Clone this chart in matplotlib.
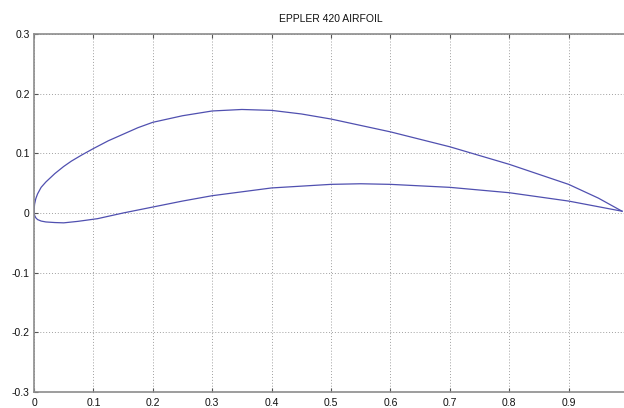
import matplotlib
matplotlib.use("Agg")
import matplotlib.pyplot as plt

# upper surface, trailing edge -> leading edge
x_upper = [0.99, 0.95, 0.9, 0.8, 0.7, 0.6, 0.5, 0.45, 0.4, 0.35, 0.3, 0.25,
           0.2, 0.175, 0.15, 0.125, 0.1, 0.08, 0.063, 0.05, 0.035, 0.02, 0.012,
           0.006, 0.003, 0.001, 0.0]
y_upper = [0.003, 0.025, 0.048, 0.0816, 0.111, 0.136, 0.1575, 0.166, 0.172, 0.1735, 0.171, 0.163,
           0.152, 0.143, 0.132, 0.121, 0.108, 0.097, 0.087, 0.078, 0.066, 0.052, 0.043,
           0.032, 0.024, 0.015, 0.004]
# lower surface, leading edge -> trailing edge
x_lower = [0.0, 0.001, 0.003, 0.006, 0.012, 0.02, 0.035, 0.05, 0.074, 0.107, 0.15,
           0.2, 0.25, 0.3, 0.4, 0.5, 0.55, 0.6, 0.7, 0.8, 0.9, 0.99]
y_lower = [0.004, -0.004, -0.008, -0.011, -0.0135, -0.015, -0.016, -0.0165, -0.014, -0.0095, 0.0,
           0.010, 0.020, 0.029, 0.042, 0.048, 0.049, 0.048, 0.043, 0.034, 0.020, 0.003]

x_ticks = [0, 0.1, 0.2, 0.3, 0.4, 0.5, 0.6, 0.7, 0.8, 0.9]
y_ticks = [-0.3, -0.2, -0.1, 0, 0.1, 0.2, 0.3]

plt.rcParams["font.family"] = ["Liberation Sans", "DejaVu Sans"]

fig = plt.figure(figsize=(6.24, 4.08), dpi=100)
ax = fig.add_axes([34 / 624, 16 / 408, 594 / 624, 358 / 408])

line_col = "#5050b0"
ax.plot(x_upper, y_upper, color=line_col, lw=0.9)
ax.plot(x_lower, y_lower, color=line_col, lw=0.9)

ax.set_xlim(0, 1)
ax.set_ylim(-0.3, 0.3)
ax.set_xticks(x_ticks)
ax.set_yticks(y_ticks)
ax.set_xticklabels(["0", "0.1", "0.2", "0.3", "0.4", "0.5", "0.6", "0.7", "0.8", "0.9"])
ax.set_yticklabels(["-0.3", "-0.2", "-0.1", "0", "0.1", "0.2", "0.3"])

ax.grid(True, linestyle=(0, (1, 2)), color="#a0a0a0", lw=0.7)
ax.tick_params(direction="in", length=3, width=0.8, color="#555555",
               labelsize=7.5, labelcolor="#111111", top=True, right=True, pad=3)
ax.tick_params(axis="x", pad=4.5)
for s in ax.spines.values():
    s.set_color("#8c8c8c")
    s.set_linewidth(1.2)

ax.set_title("EPPLER 420 AIRFOIL", fontsize=7.5, color="#111111", pad=9)

fig.savefig("out.png", dpi=100)
